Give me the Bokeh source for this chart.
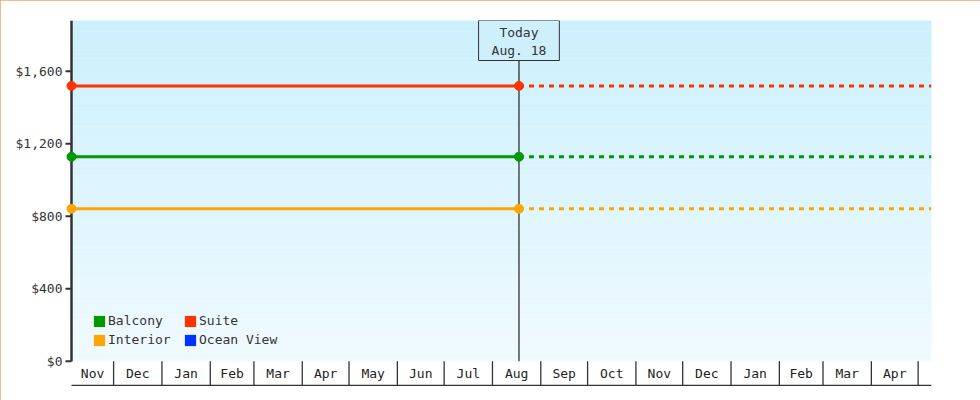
import numpy as np
import pandas as pd
from bokeh.plotting import figure
from bokeh.models import (Range1d, FixedTicker, NumeralTickFormatter, Label,
                          Legend, LegendItem)
from bokeh.core.properties import value
from bokeh.embed import file_html
from bokeh.resources import INLINE

# ---------------- data ----------------
series_names = ["Balcony", "Suite", "Interior", "Ocean View"]
series_colors = ["#009900", "#ff3300", "#ffa500", "#0033ff"]
series_prices = [1128, 1519, 841, None]       # Ocean View has no price line
legend_order = ["Balcony", "Interior", "Suite", "Ocean View"]

start_date = "2017-11-04"
today_date = "2018-08-18"
end_date = "2019-05-09 14:00"
today_text = "Today\nAug. 18"

month_labels = ["Nov", "Dec", "Jan", "Feb", "Mar", "Apr", "May", "Jun", "Jul",
                "Aug", "Sep", "Oct", "Nov", "Dec", "Jan", "Feb", "Mar", "Apr"]
first_month = "2017-11-01"

y_ticks = [0, 400, 800, 1200, 1600]
y_max = 1880

# ---------------- styling ----------------
FONT = "DejaVu Sans Mono"
DARK = "#333333"
STRIP_BOTTOM = -134      # month strip depth (data units under $0)
STRIP_MID = -67
Y_MIN = -162

def ms(t):
    return pd.Timestamp(t).value / 1e6

start = ms(start_date)
today = ms(today_date)
end = ms(end_date)
day = 86400000.0

p = figure(width=980, height=400, output_backend="svg", toolbar_location=None,
           x_axis_location=None,
           x_range=Range1d(start - 5.13 * day, end),
           y_range=Range1d(Y_MIN, y_max),
           min_border_left=63, min_border_right=49, min_border_top=20,
           min_border_bottom=10,
           background_fill_color="white", border_fill_color="white",
           outline_line_color=None,
           styles={"outline": "1px solid #eaa865", "outline-offset": "-1px"})
p.xgrid.visible = False
p.ygrid.visible = False

# gradient background of the plot area
n = 90
edges = np.linspace(0, y_max, n + 1)
c_bot = np.array([0xf0, 0xfa, 0xff])
c_top = np.array([0xcb, 0xf0, 0xfd])
cols = []
for i in range(n):
    t = (i + 0.5) / n
    c = (c_bot * (1 - t) + c_top * t).round().astype(int)
    cols.append("#%02x%02x%02x" % tuple(c))
p.quad(left=start, right=end, bottom=edges[:-1], top=edges[1:],
       fill_color=cols, line_color=cols, line_width=0.6)

# month strip
month_starts = pd.date_range(first_month, periods=len(month_labels) + 1, freq="MS")
ms_starts = [ms(t) for t in month_starts]
seps = ms_starts[1:]
p.segment(x0=seps, y0=[0] * len(seps), x1=seps, y1=[STRIP_BOTTOM] * len(seps),
          line_color=DARK, line_width=1.3)
p.segment(x0=[start], y0=[STRIP_BOTTOM], x1=[end], y1=[STRIP_BOTTOM],
          line_color=DARK, line_width=1.3)
mids = [(max(ms_starts[i], start) + ms_starts[i + 1]) / 2 for i in range(len(month_labels))]
p.text(x=mids, y=[STRIP_MID] * len(mids), text=month_labels,
       text_font=value(FONT), text_font_size="13px", text_color="#222222",
       text_align="center", text_baseline="middle")

# y axis line and tick marks at the series start
p.segment(x0=[start], y0=[0], x1=[start], y1=[y_max], line_color=DARK, line_width=2.5)
p.ray(x=[start] * len(y_ticks), y=y_ticks, length=6, length_units="screen",
      angle=np.pi, line_color=DARK, line_width=2)

# today marker line
p.segment(x0=[today], y0=[0], x1=[today], y1=[y_max], line_color="#222222",
          line_width=1.2)

# series
legend_renderers = {}
for name, color, price in zip(series_names, series_colors, series_prices):
    if price is not None:
        p.line([start, today], [price, price], line_color=color, line_width=3)
        p.line([today, end], [price, price], line_color=color, line_width=3,
               line_dash="5 5")
        p.scatter([start, today], [price, price], size=9, marker="circle",
                  fill_color=color, line_color=color)
    # zero-area swatch renderer used only for the legend
    legend_renderers[name] = p.quad(left=[start], right=[start], bottom=[0], top=[0],
                                    fill_color=color, line_color=None)

legend = Legend(items=[LegendItem(label=nm, renderers=[legend_renderers[nm]])
                       for nm in legend_order],
                location=(29, 43), orientation="vertical", nrows=2,
                glyph_width=14, glyph_height=14, label_standoff=2, spacing=4,
                label_height=14, label_width=71, padding=0, margin=0,
                border_line_color=None, background_fill_alpha=0,
                label_text_font=FONT, label_text_font_size="13px",
                label_text_color=DARK)
p.add_layout(legend, "center")

# today label
lab = Label(x=today, y=y_max, text=today_text, anchor="top_center",
            text_align="center", text_font=FONT, text_font_size="13px",
            text_color=DARK, border_line_color=DARK, border_line_width=1,
            background_fill_color="#cdf0fc",
            padding=dict(left=13, right=13, top=4, bottom=3))
p.add_layout(lab)

# y axis (labels only; line and ticks drawn at the series start above)
ax = p.yaxis[0]
ax.ticker = FixedTicker(ticks=y_ticks, minor_ticks=[])
ax.formatter = NumeralTickFormatter(format="$0,0")
ax.axis_line_color = None
ax.major_tick_line_color = None
ax.minor_tick_line_color = None
ax.major_tick_out = 0
ax.major_tick_in = 0
ax.major_label_standoff = 1
ax.major_label_text_font = FONT
ax.major_label_text_font_size = "13px"
ax.major_label_text_color = DARK

open("out.html", "w").write(file_html(p, INLINE))
